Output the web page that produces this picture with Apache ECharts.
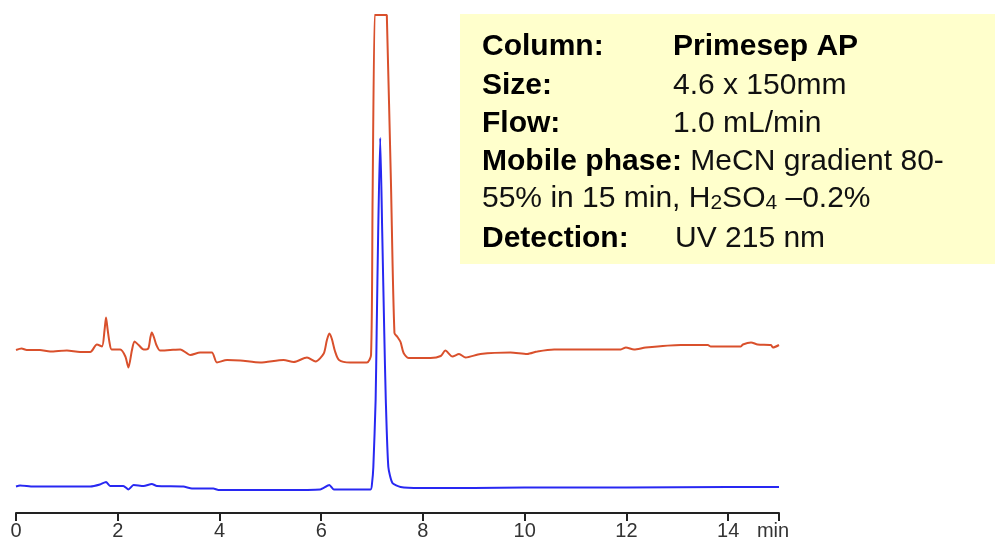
<!DOCTYPE html>
<html>
<head>
<meta charset="utf-8">
<script src="https://cdn.jsdelivr.net/npm/echarts@6/dist/echarts.min.js"></script>
<style>
  html, body { margin: 0; padding: 0; background: #fff; }
  #container { width: 995px; height: 543px; }
</style>
</head>
<body>
<div id="container"></div>
<script>
// retention time (min), detector signal (arbitrary units, traces offset)
var redTrace = [
  [0, 32.6], [0.11, 32.9], [0.21, 32.6], [0.47, 32.6], [0.67, 32.3], [1.0, 32.5],
  [1.26, 32.2], [1.46, 32.2], [1.59, 33.7], [1.69, 33.3], [1.74, 36.5], [1.77, 39.1],
  [1.80, 36.8], [1.84, 34.0], [1.88, 32.7], [2.05, 32.7], [2.15, 31.3], [2.21, 29.1],
  [2.28, 32.6], [2.33, 34.3], [2.41, 33.6], [2.51, 32.7], [2.60, 32.9], [2.64, 35.0],
  [2.67, 36.1], [2.71, 35.2], [2.76, 33.6], [2.83, 32.5], [3.03, 32.6], [3.23, 32.7],
  [3.43, 31.6], [3.62, 32.1], [3.85, 32.1], [3.95, 30.1], [4.15, 30.6], [4.41, 30.5],
  [4.80, 30.1], [5.26, 30.6], [5.46, 30.2], [5.72, 31.1], [5.89, 30.3], [6.05, 31.9],
  [6.11, 34.5], [6.16, 35.9], [6.21, 34.8], [6.27, 32.4], [6.35, 30.6], [6.57, 30.1],
  [6.90, 30.1], [6.98, 31.6], [7.01, 62.6], [7.05, 99.6], [7.06, 99.6], [7.29, 99.6],
  [7.30, 99.6], [7.37, 66.6], [7.44, 36.0], [7.50, 35.2], [7.56, 34.2], [7.62, 32.0],
  [7.72, 31.0], [8.15, 31.0], [8.35, 31.4], [8.44, 32.5], [8.58, 31.3], [8.71, 31.8],
  [8.84, 31.1], [9.13, 31.8], [9.72, 32.1], [10.05, 31.8], [10.25, 32.3], [10.58, 32.7],
  [11.89, 32.7], [11.99, 33.1], [12.15, 32.7], [12.38, 33.1], [13.07, 33.6], [13.60, 33.6],
  [13.66, 33.3], [14.25, 33.3], [14.29, 33.7], [14.45, 34.1], [14.58, 33.7], [14.84, 33.6],
  [14.88, 33.1], [15.0, 33.6]
]

var blueTrace = [
  [0, 5.3], [0.08, 5.5], [0.34, 5.3], [1.46, 5.3], [1.65, 5.7], [1.77, 6.2], [1.85, 5.4],
  [2.11, 5.4], [2.21, 4.7], [2.31, 5.6], [2.51, 5.4], [2.67, 5.8], [2.77, 5.4], [3.29, 5.3],
  [3.46, 4.9], [3.88, 4.9], [3.98, 4.6], [5.26, 4.6], [5.98, 4.7], [6.16, 5.6], [6.25, 4.7],
  [6.97, 4.7], [7.00, 6.0], [7.025, 9.2], [7.07, 22.6], [7.09, 36.0], [7.12, 56.0],
  [7.16, 75.0], [7.20, 56.0], [7.24, 36.0], [7.27, 22.6], [7.32, 9.2], [7.40, 6.0],
  [7.56, 5.2], [7.95, 5.0], [9.0, 5.0], [10.0, 5.1], [12.0, 5.1], [14.0, 5.2], [15.0, 5.2]
]

var tickValues = [0, 2, 4, 6, 8, 10, 12, 14, 15]
var labelValues = [0, 2, 4, 6, 8, 10, 12, 14]

var infoLabels = ['Column:', 'Size:', 'Flow:', 'Mobile phase:', '', 'Detection:']
var infoValues = ['Primesep AP', '4.6 x 150mm', '1.0 mL/min', 'MeCN gradient 80-',
  '55% in 15 min, H{s|2}SO{s|4} \u20130.2%', 'UV 215 nm']

var chartDom = document.getElementById('container')
var myChart = echarts.init(chartDom, null, { renderer: 'canvas' })

var baseFont = 'Arial, "Liberation Sans", sans-serif'
var lineTop = 32
var linePitch = 38.3

// 说明框
var infoGraphics = [
  {
    type: 'rect',
    shape: { x: 460, y: 14, width: 535, height: 250 },
    style: { fill: '#ffffcc' },
    z: 10
  }
]
infoLabels.forEach(function(lbl, i) {
  var y = lineTop + i * linePitch
  if (i === 3) {
    infoGraphics.push({
      type: 'text', x: 482, y: y, z: 11,
      style: {
        text: '{b|' + lbl + '} ' + infoValues[i],
        font: '30px ' + baseFont, fill: '#111',
        rich: { b: { fontWeight: 'bold', fontSize: 30, fontFamily: baseFont, fill: '#000' } }
      }
    })
    return
  }
  if (i === 4) {
    // 下标行
    infoGraphics.push({
      type: 'text', x: 482, y: y - 11, z: 11,
      style: {
        text: '{n|' + infoValues[i].replace(/\{s\|(\d)\}/g, '}{s|$1}{n|') + '}',
        rich: {
          n: { fontSize: 30, fontFamily: baseFont, fill: '#111', lineHeight: 40, verticalAlign: 'bottom' },
          s: { fontSize: 21, fontFamily: baseFont, fill: '#111', lineHeight: 20, verticalAlign: 'bottom' }
        }
      }
    })
    return
  }
  infoGraphics.push({
    type: 'text', x: 482, y: y, z: 11,
    style: { text: lbl, font: 'bold 30px ' + baseFont, fill: '#000' }
  })
  infoGraphics.push({
    type: 'text', x: i === 5 ? 675 : 673, y: y, z: 11,
    style: {
      text: infoValues[i],
      font: (i === 0 ? 'bold ' : '') + '30px ' + baseFont,
      fill: i === 0 ? '#000' : '#111'
    }
  })
})

infoGraphics.push({
  type: 'text', x: 773, y: 531, z: 11,
  style: { text: 'min', font: '20px ' + baseFont, fill: '#333', align: 'center', verticalAlign: 'middle' }
})

var option = {
  backgroundColor: '#ffffff',
  animation: false,
  grid: { left: 16, right: 216, top: 13, bottom: 30 },
  xAxis: {
    type: 'value',
    min: 0,
    max: 15,
    interval: 2,
    splitLine: { show: false },
    axisLine: { show: true, lineStyle: { color: '#222', width: 2 } },
    axisTick: {
      show: true,
      inside: false,
      length: 8,
      customValues: tickValues,
      lineStyle: { color: '#222', width: 2 }
    },
    axisLabel: {
      customValues: labelValues,
      color: '#333',
      fontSize: 20,
      fontFamily: baseFont,
      margin: 8
    }
  },
  yAxis: {
    type: 'value',
    min: 0,
    max: 100,
    show: false
  },
  series: [
    {
      name: 'sample',
      type: 'line',
      data: redTrace,
      symbol: 'none',
      smooth: 0.25,
      lineStyle: { color: '#d9502c', width: 2 },
      z: 3
    },
    {
      name: 'standard',
      type: 'line',
      data: blueTrace,
      symbol: 'none',
      smooth: 0.2,
      lineStyle: { color: '#2828f2', width: 2 },
      z: 4
    }
  ],
  graphic: infoGraphics
}

option && myChart.setOption(option)
</script>
</body>
</html>
